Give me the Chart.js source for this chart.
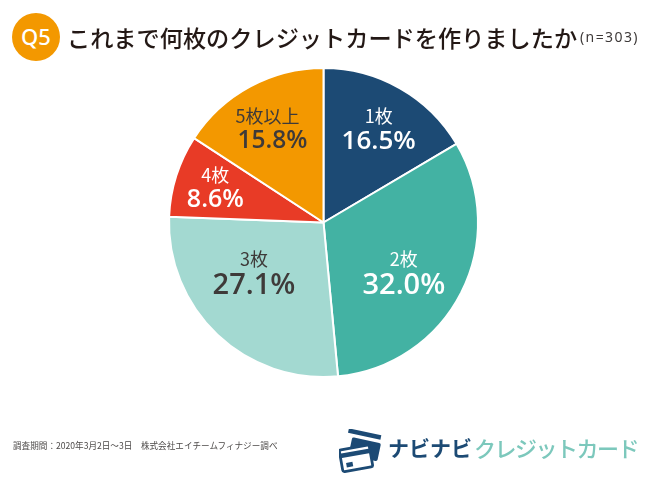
<!DOCTYPE html>
<html lang="ja">
<head>
<meta charset="utf-8">
<title>Q5</title>
<script src="https://cdn.jsdelivr.net/npm/chart.js@4"></script>
<style>
  html, body { margin: 0; padding: 0; background: #fff; }
  #wrap { position: relative; width: 650px; height: 487px; overflow: hidden; font-family: "Noto Sans CJK JP", sans-serif; color: #231815; }
  #wrap > div, #wrap > svg { position: absolute; white-space: nowrap; }
  canvas { position: absolute; left: 0; top: 0; }
  #badge { left: 12px; top: 13px; width: 48px; height: 48px; border-radius: 50%; background: #f39800; color: #fff; font: 500 22px/46px "Noto Sans", sans-serif; text-align: center; }
  #title { left: 67px; top: 19px; font-size: 23.2px; line-height: 36px; font-weight: 500; }
  #count { left: 580px; top: 28px; font: 14px/18px "Noto Sans", sans-serif; letter-spacing: 1.4px; color: #3e3a39; }
  #note { left: 13px; top: 438px; font-size: 8.6px; line-height: 14px; color: #4c4948; }
  #logoA { left: 388px; top: 427px; font-size: 21px; line-height: 40px; color: #1c4a74; font-weight: 700; }
  #logoB { left: 474px; top: 427px; font-size: 22px; line-height: 40px; color: #7cc8bc; font-weight: 500; letter-spacing: -1.5px; }
</style>
</head>
<body>
<div id="wrap">
  <canvas id="pieChart" width="650" height="487"></canvas>
  <div id="badge">Q5</div>
  <div id="title">これまで何枚のクレジットカードを作りましたか</div>
  <div id="count">(n=303)</div>
  <div id="note">調査期間：2020年3月2日～3日　株式会社エイチームフィナジー調べ</div>
  <svg style="left:339px;top:429px" width="46" height="46" viewBox="0 0 50 50">
    <rect x="10" y="3" width="36" height="5" fill="#1c4a74" transform="rotate(12 28 5)"/>
    <rect x="12" y="12" width="32" height="20" rx="2" fill="#1c4a74" transform="rotate(12 28 22)"/>
    <rect x="2" y="20" width="33" height="24" rx="2" fill="#fff" stroke="#1c4a74" stroke-width="3" transform="rotate(-10 18 32)"/>
    <rect x="2" y="24" width="33" height="5" fill="#1c4a74" transform="rotate(-10 18 32)"/>
    <rect x="7" y="35" width="7" height="5" fill="#1c4a74" transform="rotate(-10 18 32)"/>
  </svg>
  <div id="logoA">ナビナビ</div>
  <div id="logoB">クレジットカード</div>
</div>
<script>
const categories = ["1枚", "2枚", "3枚", "4枚", "5枚以上"];
const shares = [16.5, 32.0, 27.1, 8.6, 15.8];
const colors = ["#1c4a74", "#43b2a3", "#a3d9d1", "#e83b26", "#f39800"];
const textColors = ["#fff", "#fff", "#3e3a39", "#fff", "#3e3a39"];
const numberSizes = [26, 29, 29, 25, 24.5];
// where each label sits, as a fraction of the radius from the centre
const labelSpots = [[0.357, -0.605], [0.52, 0.32], [-0.45, 0.32], [-0.70, -0.225], [-0.33, -0.605]];
const nameNudge = [0, 0, 0, 0, -5];

const sliceLabels = {
  id: "sliceLabels",
  afterDatasetsDraw(chart) {
    const ctx = chart.ctx;
    chart.getDatasetMeta(0).data.forEach((arc, i) => {
      const x = arc.x + arc.outerRadius * labelSpots[i][0];
      const y = arc.y + arc.outerRadius * labelSpots[i][1];
      ctx.save();
      ctx.textAlign = "center";
      ctx.textBaseline = "middle";
      ctx.fillStyle = textColors[i];
      ctx.font = '400 18px "Noto Sans CJK JP", sans-serif';
      ctx.fillText(categories[i], x + nameNudge[i], y - 13);
      ctx.font = '600 ' + numberSizes[i] + 'px "Open Sans", sans-serif';
      ctx.fillText(shares[i].toFixed(1) + "%", x, y + numberSizes[i] * 0.47);
      ctx.restore();
    });
  },
};

new Chart(document.getElementById("pieChart").getContext("2d"), {
  type: "pie",
  data: {
    labels: categories,
    datasets: [
      {
        data: shares,
        backgroundColor: colors,
        borderColor: "#fff",
        borderWidth: 2,
      },
    ],
  },
  options: {
    responsive: false,
    animation: false,
    layout: { padding: { top: 67, bottom: 109, left: 168, right: 171 } },
    plugins: { legend: { display: false }, tooltip: { enabled: false } },
  },
  plugins: [sliceLabels],
});
</script>
</body>
</html>
